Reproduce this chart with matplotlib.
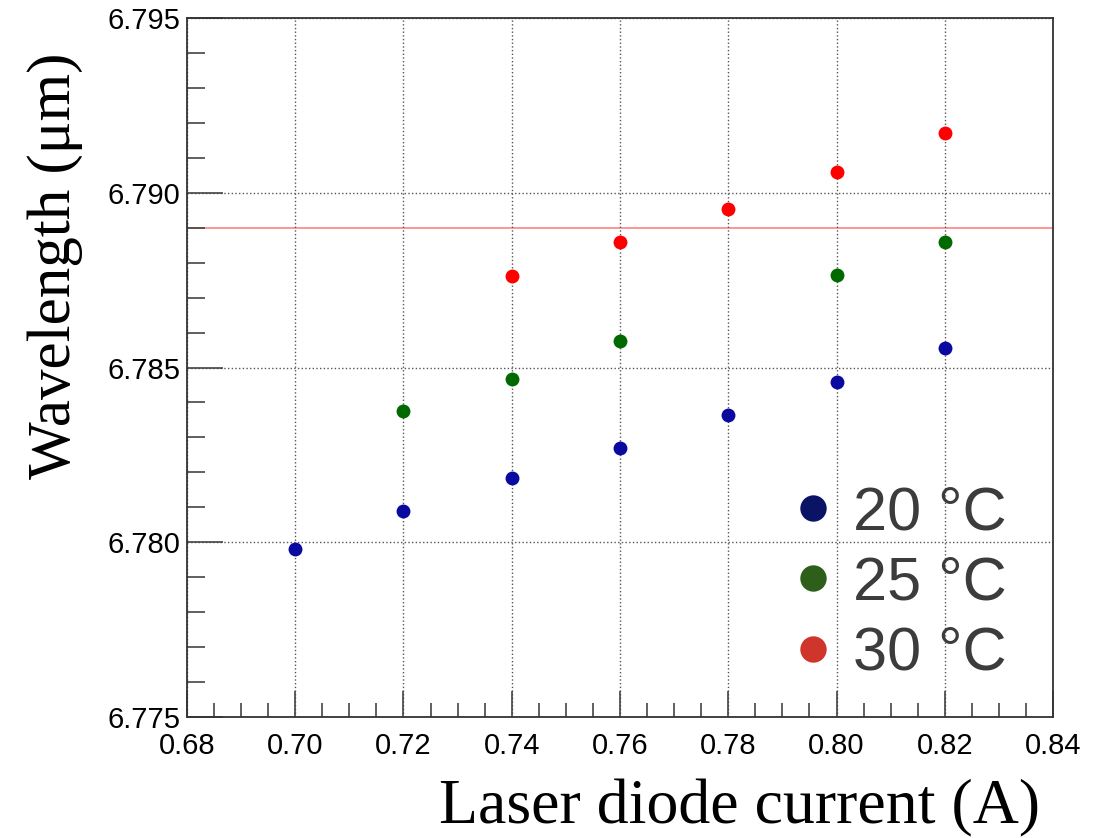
import matplotlib
matplotlib.use("Agg")
import matplotlib.pyplot as plt
from matplotlib.lines import Line2D
from matplotlib.ticker import MultipleLocator, FormatStrFormatter

# measured data (wavelength in um vs laser diode current in A)
current_20 = [0.70, 0.72, 0.74, 0.76, 0.78, 0.80, 0.82]
wl_20 = [6.77981, 6.78089, 6.78184, 6.78270, 6.78364, 6.78459, 6.78556]

current_25 = [0.72, 0.74, 0.76, 0.80, 0.82]
wl_25 = [6.78376, 6.78467, 6.78576, 6.78766, 6.78859]

current_30 = [0.74, 0.76, 0.78, 0.80, 0.82]
wl_30 = [6.78762, 6.78859, 6.78954, 6.79060, 6.79170]

target_wl = 6.789
legend_labels = ["20 °C", "25 °C", "30 °C"]

fig = plt.figure(figsize=(10.96, 8.38), dpi=100)
ax = fig.add_axes([0.1706, 0.1444, 0.7902, 0.8341])

ax.plot(current_20, wl_20, "o", ms=10, color="#0a0aa0", mec="none")
ax.plot(current_25, wl_25, "o", ms=10, color="#006a00", mec="none")
ax.plot(current_30, wl_30, "o", ms=10, color="#ff0000", mec="none")
ax.axhline(target_wl, color="#ff8c8c", lw=1.3, zorder=1)

ax.set_xlim(0.68, 0.84)
ax.set_ylim(6.775, 6.795)
ax.xaxis.set_major_locator(MultipleLocator(0.02))
ax.xaxis.set_minor_locator(MultipleLocator(0.005))
ax.yaxis.set_major_locator(MultipleLocator(0.005))
ax.yaxis.set_minor_locator(MultipleLocator(0.001))
ax.xaxis.set_major_formatter(FormatStrFormatter("%.2f"))
ax.yaxis.set_major_formatter(FormatStrFormatter("%.3f"))
ax.tick_params(which="both", direction="in", color="#444444", width=1.2,
               labelsize=21)
ax.tick_params(axis="y", which="major", length=26, pad=5)
ax.tick_params(axis="y", which="minor", length=13)
ax.tick_params(axis="x", which="major", length=19, pad=11)
ax.tick_params(axis="x", which="minor", length=10)
for lab in ax.get_xticklabels() + ax.get_yticklabels():
    lab.set_family("Liberation Sans")
for s in ax.spines.values():
    s.set_linewidth(1.3)
    s.set_color("#333333")
ax.grid(True, which="major", ls=":", color="#555555", lw=1.0)

ax.set_xlabel("Laser diode current (A)", family="Liberation Serif",
              fontsize=46, loc="right")
ax.xaxis.set_label_coords(0.985, -0.09)
ax.set_ylabel("Wavelength (μm)", family="Liberation Serif",
              fontsize=44, loc="top")
ax.yaxis.set_label_coords(-0.12, 0.95)

handles = [Line2D([], [], ls="none", marker="o", ms=19, color=c, mec="none")
           for c in ["#0b1464", "#2e5f1a", "#d0352b"]]
leg = ax.legend(handles, legend_labels, loc="lower right", frameon=False,
                prop={"family": "Liberation Sans", "size": 44},
                labelspacing=0.22, handletextpad=0.05, handlelength=1.2,
                bbox_to_anchor=(1.01, -0.03))
for t in leg.get_texts():
    t.set_color("#3c3c3c")

fig.savefig("out.png", dpi=100)
